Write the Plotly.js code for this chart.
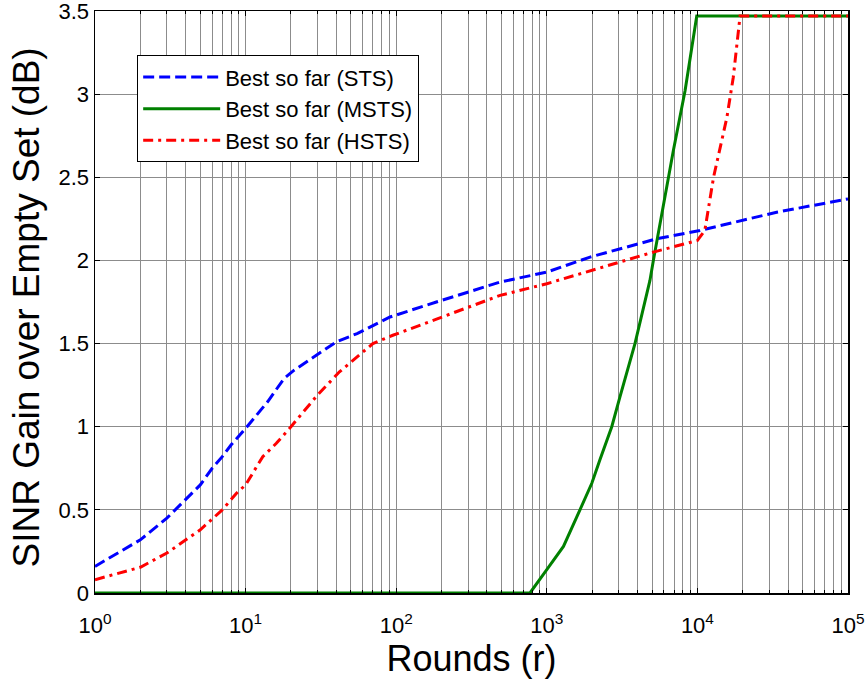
<!DOCTYPE html>
<html>
<head>
<meta charset="utf-8">
<script src="https://cdn.plot.ly/plotly-3.0.1.min.js"></script>
<style>html,body{margin:0;padding:0;background:#fff;}#chart{width:867px;height:682px;}</style>
</head>
<body>
<div id="chart"></div>
<script>
// Series names
var seriesNames = ['Best so far (STS)', 'Best so far (MSTS)', 'Best so far (HSTS)'];

// STS (blue dashed)
var stsRounds = [1, 2, 3, 4, 5, 6, 7, 8, 10, 14, 18, 21, 31, 40, 55, 91, 185, 490, 1000, 1936, 5370, 10400, 33600, 100000];
var stsGain   = [0.16, 0.32, 0.45, 0.56, 0.65, 0.75, 0.82, 0.89, 0.99, 1.15, 1.29, 1.34, 1.44, 1.51, 1.56, 1.66, 1.75, 1.87, 1.93, 2.02, 2.13, 2.18, 2.29, 2.37];

// MSTS (green solid)
var mstsRounds = [1, 773, 1000, 1290, 1660, 1990, 2250, 2700, 3060, 3850, 4840, 5100, 6920, 8280, 9900, 100000];
var mstsGain   = [0, 0, 0.14, 0.28, 0.50, 0.66, 0.80, 1.00, 1.18, 1.50, 1.88, 2.00, 2.66, 3.02, 3.47, 3.47];

// HSTS (red dash-dot)
var hstsRounds = [1, 2, 3, 4, 5, 7, 8.7, 10, 13, 16, 20, 30, 42, 70, 95, 189, 490, 1000, 3060, 5100, 10000, 11200, 12800, 15700, 17300, 19200, 100000];
var hstsGain   = [0.08, 0.155, 0.24, 0.32, 0.38, 0.50, 0.60, 0.65, 0.82, 0.90, 1.00, 1.19, 1.33, 1.50, 1.55, 1.65, 1.79, 1.86, 1.99, 2.05, 2.12, 2.18, 2.50, 2.86, 3.10, 3.47, 3.47];

// Axis ticks and titles
var xTickVals = [1, 10, 100, 1000, 10000, 100000];
var xTickText = ['10<sup>0</sup>', '10<sup>1</sup>', '10<sup>2</sup>', '10<sup>3</sup>', '10<sup>4</sup>', '10<sup>5</sup>'];
var yTickVals = [0, 0.5, 1, 1.5, 2, 2.5, 3, 3.5];
var yTickText = ['0', '0.5', '1', '1.5', '2', '2.5', '3', '3.5'];
var xTitle = 'Rounds (r)';
var yTitle = 'SINR Gain over Empty Set (dB)';

var minorVals = [];
for (var d = 0; d < 5; d++) {
  for (var m = 2; m <= 9; m++) minorVals.push(m * Math.pow(10, d));
}

var FONT = 'Arial, "Liberation Sans", sans-serif';
var gridCol = '#8c8c8c';

var traces = [
  {x: stsRounds, y: stsGain, name: seriesNames[0], mode: 'lines', type: 'scatter',
   line: {color: '#0000ff', width: 3, dash: '11px,5px'}},
  {x: mstsRounds, y: mstsGain, name: seriesNames[1], mode: 'lines', type: 'scatter',
   line: {color: '#008000', width: 3}},
  {x: hstsRounds, y: hstsGain, name: seriesNames[2], mode: 'lines', type: 'scatter',
   line: {color: '#ff0000', width: 3, dash: '10px,5px,3px,5px'}}
];

var layout = {
  width: 867, height: 682,
  margin: {l: 95, r: 19, t: 11, b: 89},
  paper_bgcolor: '#ffffff', plot_bgcolor: '#ffffff',
  font: {family: FONT, color: '#000', size: 22},
  showlegend: true,
  legend: {
    x: 0.056, y: 0.924, xanchor: 'left', yanchor: 'top',
    bgcolor: '#ffffff', bordercolor: '#000', borderwidth: 1,
    font: {family: FONT, size: 22, color: '#000'},
    itemwidth: 77, tracegroupgap: 0
  },
  xaxis: {
    type: 'log', range: [0, 5],
    tickmode: 'array', tickvals: xTickVals, ticktext: xTickText,
    ticks: 'inside', ticklen: 5, tickcolor: '#000',
    ticklabelstandoff: 12, ticklabeloverflow: 'allow',
    showline: true, linecolor: '#000', linewidth: 1.5, mirror: 'ticks',
    showgrid: true, gridcolor: gridCol, gridwidth: 1,
    minor: {tickmode: 'array', tickvals: minorVals, showgrid: true, gridcolor: gridCol, gridwidth: 1,
            ticks: 'inside', ticklen: 3, tickcolor: '#000'},
    zeroline: false,
    tickfont: {family: FONT, size: 22, color: '#000'},
    title: {text: xTitle, font: {family: FONT, size: 36, color: '#000'}, standoff: 1}
  },
  yaxis: {
    range: [0, 3.5],
    tickmode: 'array', tickvals: yTickVals, ticktext: yTickText,
    ticks: 'inside', ticklen: 5, tickcolor: '#000',
    ticklabeloverflow: 'allow',
    showline: true, linecolor: '#000', linewidth: 1.5, mirror: 'ticks',
    showgrid: true, gridcolor: gridCol, gridwidth: 1,
    zeroline: false,
    tickfont: {family: FONT, size: 22, color: '#000'}
  },
  annotations: [{
    text: yTitle, textangle: -90, showarrow: false,
    xref: 'paper', yref: 'paper', x: -0.0903, y: 0.4905,
    xanchor: 'center', yanchor: 'middle',
    font: {family: FONT, size: 37, color: '#000'}
  }]
};

Plotly.newPlot('chart', traces, layout, {displayModeBar: false, staticPlot: true});
</script>
</body>
</html>
